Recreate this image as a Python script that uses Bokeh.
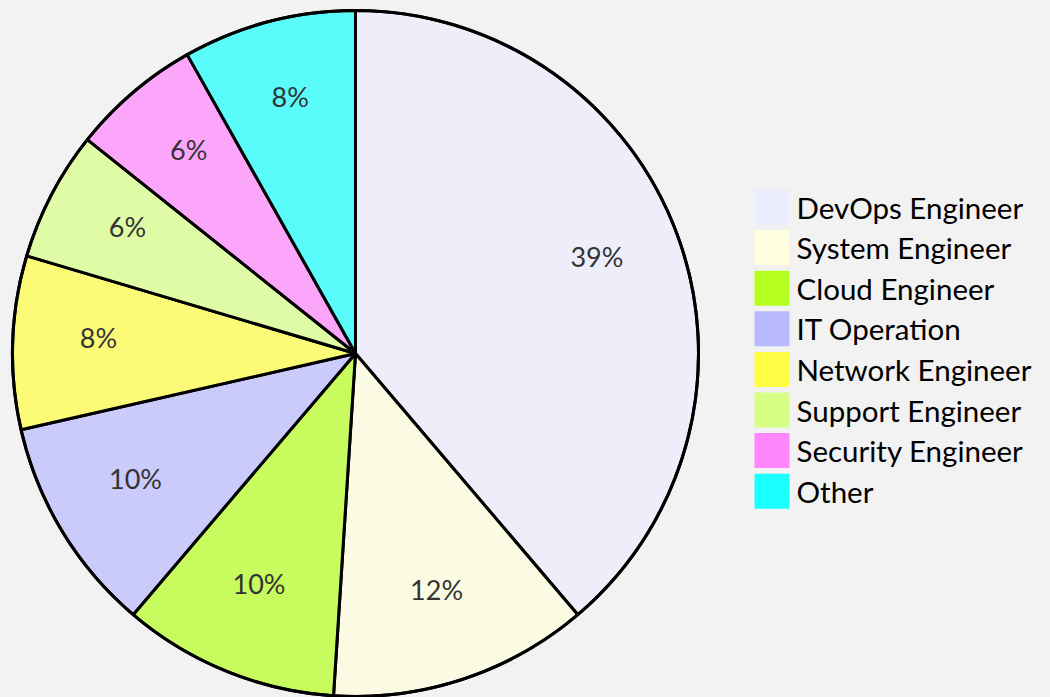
import math
from bokeh.plotting import figure
from bokeh.models import Range1d, ColumnDataSource
from bokeh.embed import file_html
from bokeh.resources import INLINE
from bokeh.core.properties import value

categories = ["DevOps Engineer", "System Engineer", "Cloud Engineer", "IT Operation",
              "Network Engineer", "Support Engineer", "Security Engineer", "Other"]
counts = [38, 12, 10, 10, 8, 6, 6, 8]
colors = ["#ECECFF", "#FFFFDE", "#B5FF20", "#B9B9FF", "#FFFF45", "#D7FF86", "#FF86FF", "#1AFFFF"]

BG = "#F2F2F2"
FONT = "Lato"
W, H = 1050, 697
CX, CY, R = 355, H - 353, 343

total = sum(counts)
starts, ends, lx, ly, labels = [], [], [], [], []
cum = 0.0
for c in counts:
    f0 = cum / total
    cum += c
    f1 = cum / total
    # clockwise from 12 o'clock
    starts.append(math.pi / 2 - f1 * 2 * math.pi)
    ends.append(math.pi / 2 - f0 * 2 * math.pi)
    mid = (f0 + f1) / 2 * 2 * math.pi
    lx.append(CX + 0.75 * R * math.sin(mid))
    ly.append(CY + 0.75 * R * math.cos(mid) + 8)
    labels.append(f"{round(c / total * 100)}%")

src = ColumnDataSource(dict(start=starts, end=ends, color=colors, lx=lx, ly=ly, label=labels))

p = figure(width=W, height=H, x_range=Range1d(0, W), y_range=Range1d(0, H),
           output_backend="svg", toolbar_location=None, min_border=0,
           x_axis_location=None, y_axis_location=None)
p.grid.visible = False
p.outline_line_color = None
p.background_fill_color = BG
p.border_fill_color = BG

p.wedge(x=CX, y=CY, radius=R, start_angle="start", end_angle="end", source=src,
        fill_color="color", fill_alpha=0.7, line_color="black", line_width=3)
p.circle(x=CX, y=CY, radius=R, fill_color=None, line_color="black", line_width=3)

p.text(x="lx", y="ly", text="label", source=src, text_align="center", text_baseline="middle",
       text_font=value(FONT), text_font_size="27px", text_color="#333333")

# legend
leg_y = [H - (206.5 + 40.6 * i) for i in range(len(categories))]
leg = ColumnDataSource(dict(y=leg_y, color=colors, name=categories,
                            rx=[771.5] * len(categories), tx=[796] * len(categories)))
p.rect(x="rx", y="y", width=35, height=35, source=leg, fill_color="color", line_color=None)
p.text(x="tx", y="y", text="name", source=leg, text_align="left", text_baseline="middle",
       text_font=value(FONT), text_font_size="29.5px", text_color="black")

html = file_html(p, INLINE)
html = html.replace("</head>", "<style>html,body{margin:0;padding:0;background:%s;overflow:hidden}</style></head>" % BG)
open("out.html", "w").write(html)
